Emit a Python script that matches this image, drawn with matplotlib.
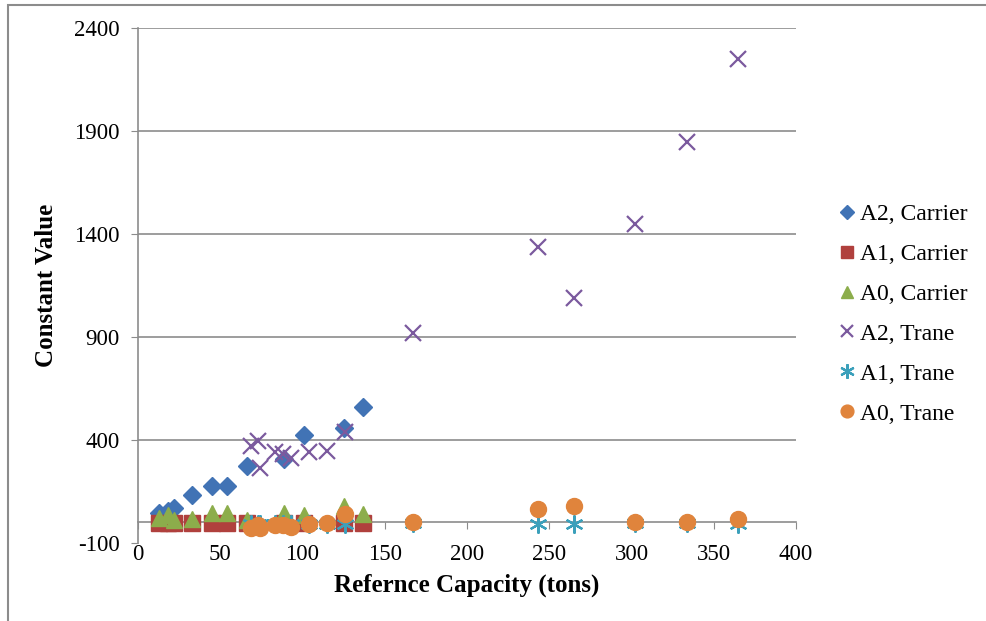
import matplotlib.pyplot as plt
from matplotlib.patches import Rectangle

plt.rcParams['font.family'] = ['Liberation Serif', 'DejaVu Serif']
plt.rcParams['axes.unicode_minus'] = False

# Carrier chillers
carrier_x = [13, 18, 22, 33, 45, 54, 66, 89, 101, 125, 137]
a2_carrier = [45, 55, 70, 134, 178, 175, 274, 308, 425, 459, 561]
a1_carrier = [-4, -3, -4, -2, -5, -4, -3, -5, -2, -4, -3]
a0_carrier = [22, 36, 10, 15, 45, 45, 12, 45, 38, 78, 40]

# Trane chillers
trane_x = [69, 73, 74, 83, 88, 93, 104, 115, 126, 167, 243, 265, 302, 334, 365]
a2_trane = [370, 395, 262, 340, 330, 315, 340, 345, 440, 919, 1337, 1090, 1449, 1847, 2250]
a1_trane = [-8, -8, -8, -8, -8, -8, -8, -8, -8, -5, -10, -10, -5, -5, -10]
a0_trane = [-27, -12, -25, -12, -15, -22, -8, -3, 41, 0, 65, 80, 0, 0, 18]

fig = plt.figure(figsize=(9.87, 6.21), dpi=100)
ax = fig.add_axes([0.1398, 0.1256, 0.6667, 0.8293])

# outer frame
fig.patches.append(Rectangle((8 / 987, -0.1), 1.2, 1 - 5 / 621 + 0.1, transform=fig.transFigure,
                             fill=False, edgecolor='#8c8c8c', linewidth=1.5))

ax.plot(carrier_x, a2_carrier, 'D', color='#4173b5', markersize=9.5, label='A2, Carrier', zorder=3)
ax.plot(carrier_x, a1_carrier, 's', color='#b0403d', markersize=11.5, label='A1, Carrier', zorder=3)
ax.plot(carrier_x, a0_carrier, '^', color='#8cad4b', markersize=11, label='A0, Carrier', zorder=3)
ax.plot(trane_x, a2_trane, 'x', color='#7b5a9e', markersize=11, markeredgewidth=1.6,
        label='A2, Trane', zorder=3)
ax.plot(trane_x, a1_trane, marker=(6, 2, 0), linestyle='none', color='#3ba0bb', markersize=13,
        markeredgewidth=1.6, label='A1, Trane', zorder=3)
ax.plot(trane_x, a0_trane, 'o', color='#e0843c', markersize=11.5, label='A0, Trane', zorder=3)

ax.set_xlim(0, 400)
ax.set_ylim(-100, 2400)
ax.set_xticks(range(0, 401, 50))
ax.set_yticks(range(-100, 2401, 500))

for s in ['top', 'right', 'bottom']:
    ax.spines[s].set_visible(False)
ax.spines['left'].set_color('#8c8c8c')
ax.spines['left'].set_linewidth(1.2)

for y in range(400, 2401, 500):
    ax.axhline(y, color='#8c8c8c', linewidth=1.2, zorder=1)

ax.tick_params(axis='y', direction='out', length=5, color='#8c8c8c', labelsize=16.5, pad=8)
ax.tick_params(axis='x', length=0, labelsize=16.5, pad=1)

# horizontal axis line sits at y = 0
zero_axis = ax.secondary_xaxis(100 / 2500)
zero_axis.set_xticks(range(0, 401, 50))
zero_axis.tick_params(direction='out', length=5, color='#8c8c8c', labelbottom=False)
zero_axis.spines['bottom'].set_color('#8c8c8c')
zero_axis.spines['bottom'].set_linewidth(1.2)

ax.set_xlabel('Refernce Capacity (tons)', fontsize=18, fontweight='bold', labelpad=6)
ax.set_ylabel('Constant Value', fontsize=18, fontweight='bold', labelpad=12)

fig.legend(loc='center left', bbox_to_anchor=(820 / 987, 1 - 314 / 621), frameon=False,
           fontsize=17, handletextpad=0.0, labelspacing=0.78, markerscale=0.8, handlelength=1.1,
           borderaxespad=0.2)

fig.savefig('out.png', dpi=100)
